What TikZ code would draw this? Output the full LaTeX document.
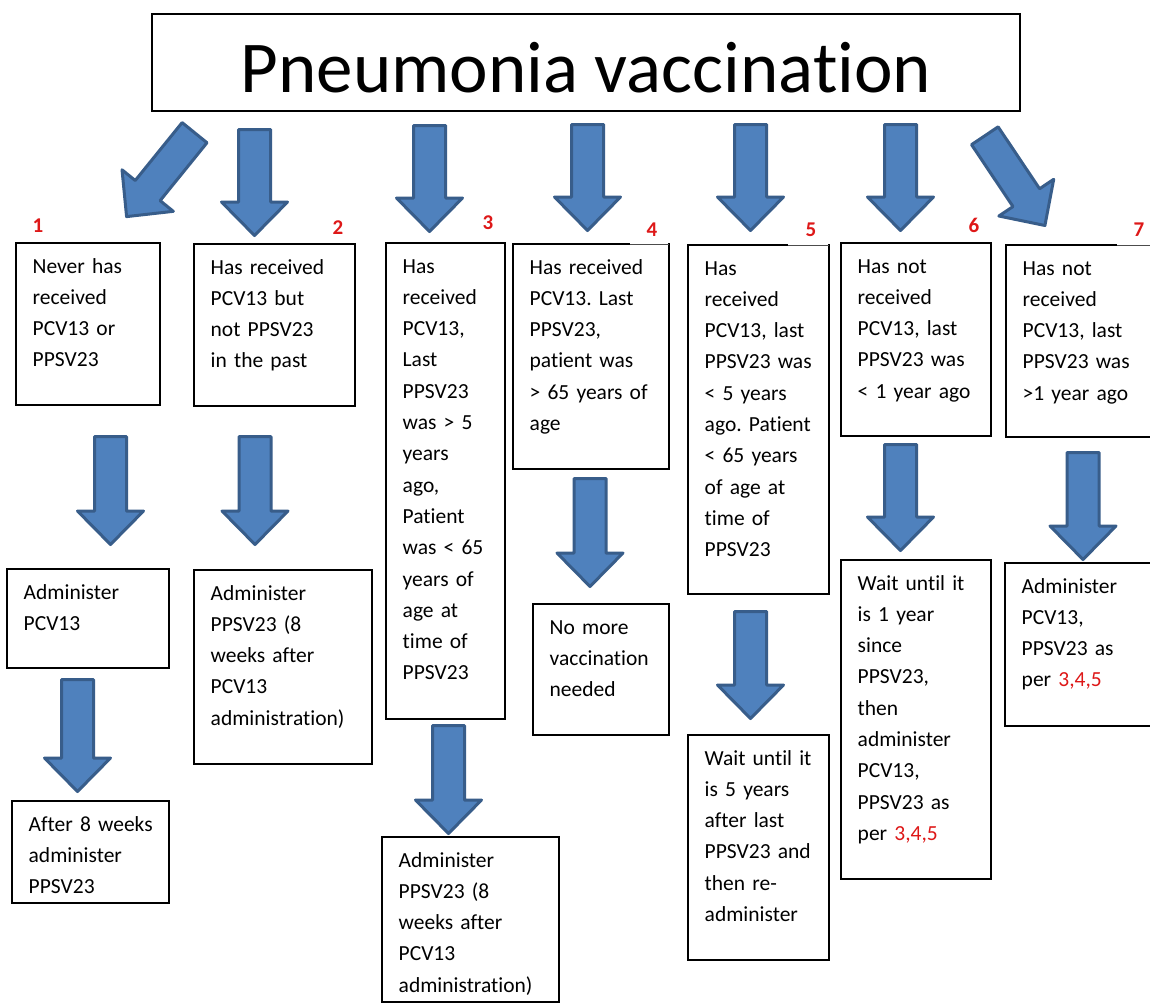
\documentclass[tikz,border=0pt]{standalone}
\usepackage{fontspec}
\setmainfont{Carlito}[Ligatures={NoCommon,TeX}]
\usetikzlibrary{calc}
\definecolor{abl}{RGB}{79,129,189}
\definecolor{abd}{RGB}{56,93,138}
\definecolor{lred}{RGB}{222,24,24}
\frenchspacing
\tikzset{
  barrow/.style={fill=abl, draw=abd, line width=3pt, line join=round},
  boxs/.style={draw=black, line width=2.2pt, anchor=north west, inner sep=0pt, outer sep=0pt},
  txt/.style={anchor=base west, inner sep=0pt, align=left, text width=170pt,
    font=\fontsize{21.5}{31.3}\selectfont},
  lab/.style={text=lred, inner sep=0pt, font=\bfseries\fontsize{21}{21}\selectfont},
}
% block arrow: tail centre x, tail centre y, rotation, length
\newcommand{\blockarr}[4]{%
  \draw[barrow, shift={(#1,#2)}, rotate=#3]
    (-16,1.5) -- (-16,{#4-35}) -- (-33,{#4-35}) -- (0,{#4-1.5}) -- (33,{#4-35}) -- (16,{#4-35}) -- (16,1.5) -- cycle;}
% box with text: name, x1, y1, x2, y2, text
\newcommand{\tbox}[6]{%
  \node[boxs, minimum width={#4-#2}, minimum height={#5-#3}] (#1) at (#2,#3) {};
  \node[txt] (#1t) at ($(#1.north west)+(16.5,30)$) {#6};}
\begin{document}
\begin{tikzpicture}[x=1pt, y=-1pt]
\useasboundingbox (0,0) rectangle (1150,1004);
\fill[white] (0,0) rectangle (1150,1004);
\clip (0,0) rectangle (1150,1004);

% title
\node[boxs, line width=2pt, minimum width=868, minimum height=97] (title) at (152,14) {};
\node[anchor=base, inner sep=0pt, font=\fontsize{73}{73}\selectfont] (titlet) at ($(title.north)+(0,78)$) {Pneumonia vaccination};

% top arrows
\blockarr{195.5}{131.5}{-39}{111}
\blockarr{254.5}{128}{0}{109}
\blockarr{429.5}{124}{0}{109}
\blockarr{587.5}{123}{0}{109}
\blockarr{750.5}{123}{0}{109}
\blockarr{900.5}{123}{0}{109}
\blockarr{984}{134.5}{33.8}{111}

% labels
\node[lab] (l1) at (38,226) {1};
\node[lab] (l2) at (338,228) {2};
\node[lab] (l3) at (488,223) {3};
\node[lab] (l4) at (652,230) {4};
\node[lab] (l5) at (811,230) {5};
\node[lab] (l6) at (974,225) {6};
\node[lab] (l7) at (1139,230) {7};

% first row
\tbox{b1}{16}{243}{160}{405}{Never has\\received\\PCV13 or\\PPSV23}
\tbox{b2}{194}{244}{355}{406}{Has received\\PCV13 but\\not PPSV23\\in the past}
\tbox{b3}{386}{243}{505}{719}{Has\\received\\PCV13,\\Last\\PPSV23\\was > 5\\years\\ago,\\Patient\\was < 65\\years of\\age at\\time of\\PPSV23}
\tbox{b4}{513}{244}{669}{469}{Has received\\PCV13. Last\\PPSV23,\\patient was\\> 65 years of\\age}
\tbox{b5}{688}{245}{829}{594}{Has\\received\\PCV13, last\\PPSV23 was\\< 5 years\\ago. Patient\\< 65 years\\of age at\\time of\\PPSV23}
\tbox{b6}{841}{243}{991}{436}{Has not\\received\\PCV13, last\\PPSV23 was\\< 1 year ago}
\tbox{b7}{1006}{245}{1160}{437}{Has not\\received\\PCV13, last\\PPSV23 was\\>1 year ago}

% thin top-edge parts next to labels
\draw[white, line width=3pt] ($(b4.north east)+(-39,0)$) -- ($(b4.north east)+(-1,0)$);
\draw[black!70, line width=0.8pt] ($(b4.north east)+(-39,0)$) -- (b4.north east);
\draw[white, line width=3pt] ($(b5.north east)+(-41,0)$) -- ($(b5.north east)+(-1,0)$);
\draw[black!70, line width=0.8pt] ($(b5.north east)+(-41,0)$) -- (b5.north east);
\draw[white, line width=3pt] ($(b7.north west)+(111,0)$) -- (b7.north east);
\draw[black!70, line width=0.8pt] ($(b7.north west)+(111,0)$) -- (b7.north east);

% lower arrows
\blockarr{110.5}{435}{0}{111}
\blockarr{255}{435}{0}{111}
\blockarr{77.5}{678}{0}{115}
\blockarr{448.5}{724}{0}{111}
\blockarr{590}{477}{0}{111}
\blockarr{750.5}{610}{0}{110}
\blockarr{900.5}{443}{0}{109}
\blockarr{1083}{451}{0}{110}

% second / third row
\tbox{b1b}{7}{569}{169}{668}{Administer\\PCV13}
\tbox{b1c}{12}{801}{169}{903}{After 8 weeks\\administer\\PPSV23}
\tbox{b2b}{194}{570}{372}{764}{Administer\\PPSV23 (8\\weeks after\\PCV13\\administration)}
\tbox{b3b}{382}{837}{559}{1002}{Administer\\PPSV23 (8\\weeks after\\PCV13\\administration)}
\tbox{b4b}{533}{604}{669}{735}{No more\\vaccination\\needed}
\tbox{b5b}{688}{735}{829}{960}{Wait until it\\is 5 years\\after last\\PPSV23 and\\then re-\\administer}
\tbox{b6b}{841}{560}{991}{879}{Wait until it\\is 1 year\\since\\PPSV23,\\then\\administer\\PCV13,\\PPSV23 as\\per \textcolor{lred}{3,4,5}}
\tbox{b7b}{1005}{563}{1160}{726}{Administer\\PCV13,\\PPSV23 as\\per \textcolor{lred}{3,4,5}}
\end{tikzpicture}
\end{document}
